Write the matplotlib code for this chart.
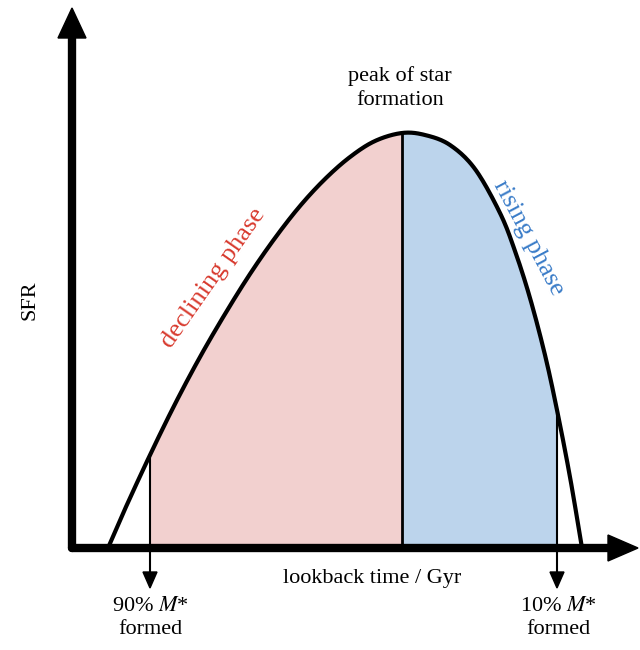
import numpy as np
import matplotlib
matplotlib.use("Agg")
import matplotlib.pyplot as plt
plt.rcParams['mathtext.fontset'] = 'stix'

# schematic curve points (pixel-like coordinates)
curve_x = [108, 125, 150, 175, 200, 225, 250, 275, 300, 325, 350, 375, 402, 425, 450, 475, 500, 515, 530, 545, 557, 570, 582]
curve_y = [548, 509, 455, 404, 357, 314, 274, 238, 206, 179, 157, 141, 133, 135, 145, 169, 213, 251, 298, 355, 410, 477, 548]
x90, x_peak, x10 = 150, 402, 557

def catmull(xs, ys, n=20):
    P = np.array(list(zip(xs, ys)), float)
    P = np.vstack([P[0], P, P[-1]])
    out = []
    for i in range(1, len(P) - 2):
        p0, p1, p2, p3 = P[i-1], P[i], P[i+1], P[i+2]
        t = np.linspace(0, 1, n, endpoint=False)[:, None]
        out.append(0.5*((2*p1) + (-p0+p2)*t + (2*p0-5*p1+4*p2-p3)*t**2 + (-p0+3*p1-3*p2+p3)*t**3))
    out.append(P[-2][None])
    return np.vstack(out)

C = catmull(curve_x, curve_y)
cx, cy = C[:, 0], C[:, 1]
base = 548

fig = plt.figure(figsize=(6.4, 6.5), dpi=100)
ax = fig.add_axes([0, 0, 1, 1])
ax.set_xlim(0, 640); ax.set_ylim(650, 0); ax.axis('off')
serif = 'Liberation Serif'

m = (cx >= x90) & (cx <= x_peak)
ax.fill_between(cx[m], cy[m], base, color='#f2d0cf', lw=0)
m = (cx >= x_peak) & (cx <= x10)
ax.fill_between(cx[m], cy[m], base, color='#bcd4ec', lw=0)

ax.plot(cx, cy, color='black', lw=3, solid_capstyle='round')
ax.plot([x_peak, x_peak], [np.interp(x_peak, cx, cy), base], color='black', lw=2)

# axes
ax.plot([72, 612], [base, base], color='black', lw=6, solid_capstyle='round')
ax.plot([72, 72], [base, 35], color='black', lw=6, solid_capstyle='round')
ax.fill([58, 86, 72], [38, 38, 8], color='black')
ax.fill([608, 608, 638], [535, 561, 548], color='black')

for xv in (x90, x10):
    mm = cx <= x_peak if xv < x_peak else cx >= x_peak
    yv = np.interp(xv, cx[mm], cy[mm])
    ax.plot([xv, xv], [yv, 575], color='black', lw=1.5)
    ax.fill([xv-7, xv+7, xv], [572, 572, 588], color='black')

fs = 16
ax.text(30, 300, 'SFR', rotation=90, ha='center', va='center', fontsize=fs, family=serif)
ax.text(372, 578, 'lookback time / Gyr', ha='center', va='center', fontsize=fs, family=serif)
ax.text(400, 88, 'peak of star\nformation', ha='center', va='center', fontsize=fs, family=serif, linespacing=1.3)
ax.text(150, 618, '90% $M$*\nformed', ha='center', va='center', fontsize=fs, family=serif, linespacing=1.3)
ax.text(558, 618, '10% $M$*\nformed', ha='center', va='center', fontsize=fs, family=serif, linespacing=1.3)
ax.text(213, 278, 'declining phase', rotation=55, ha='center', va='center', fontsize=19, family=serif, color='#d83a2e')
ax.text(528, 238, 'rising phase', rotation=-62, ha='center', va='center', fontsize=19, family=serif, color='#3a7cc8')

fig.savefig('out.png', dpi=100)
